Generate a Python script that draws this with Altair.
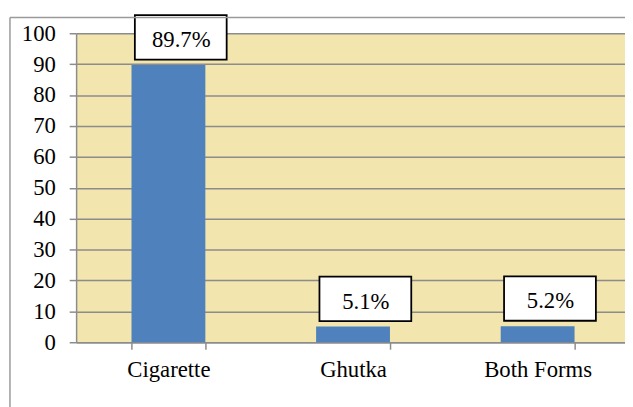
import altair as alt
import pandas as pd

categories = ["Cigarette", "Ghutka", "Both Forms"]
values = [89.7, 5.1, 5.2]
labels = ["89.7%", "5.1%", "5.2%"]
y_ticks = [0, 10, 20, 30, 40, 50, 60, 70, 80, 90, 100]

df = pd.DataFrame({"cat": categories, "val": values, "lab": labels})

FONT = "Liberation Serif"
GRID = "#8C8C8C"

x_enc = alt.X(
    "cat:N", sort=categories, title=None,
    scale=alt.Scale(range=[0, 561], paddingInner=0.6, paddingOuter=0.3),
    axis=alt.Axis(tickBand="extent", labelAngle=0, labelPadding=10, grid=False),
)
y_enc = alt.Y(
    "val:Q", title=None,
    scale=alt.Scale(domain=[0, 100], nice=False),
    axis=alt.Axis(values=y_ticks, labelPadding=14, grid=True, labelOverlap=False),
)

base = alt.Chart(df)

bars = base.mark_bar(color="#4F81BD").encode(x=x_enc, y=y_enc)

box_path = "M-0.68,-1.01L1.18,-1.01L1.18,-0.11L-0.68,-0.11Z"
boxes = base.mark_point(shape=box_path, size=10000, filled=True, fill="white",
                        stroke="black", strokeWidth=1.8, opacity=1).encode(
    x=x_enc, y=y_enc)

texts = base.mark_text(font=FONT, fontSize=23, color="black", dx=13, dy=-25,
                       baseline="middle", align="center").encode(
    x=x_enc, y=y_enc, text="lab:N")

frame_df = pd.DataFrame({"k": [0]})
frame_left = alt.Chart(frame_df).mark_rule(color="#9A9A9A", strokeWidth=1.5).encode(
    x=alt.value(-67), y=alt.value(-16), y2=alt.value(420))
frame_top = alt.Chart(frame_df).mark_rule(color="#9A9A9A", strokeWidth=1.5).encode(
    x=alt.value(-67), x2=alt.value(600), y=alt.value(-16))

chart = alt.layer(bars, boxes, texts, frame_left, frame_top).properties(
    width=556, height=313,
    autosize=alt.AutoSizeParams(type="none"),
    padding={"left": 69, "top": 23, "right": 0, "bottom": 63},
    background="white",
).configure_view(fill="#F2E5AE", strokeWidth=0).configure_axis(
    labelFont=FONT, labelFontSize=23, labelColor="black", tickSize=7,
    tickColor=GRID, tickWidth=1.5, domainColor=GRID, domainWidth=1.5,
    gridColor=GRID, gridWidth=1.5,
)

chart.save("out.html", embed_options={"renderer": "svg", "actions": False})
